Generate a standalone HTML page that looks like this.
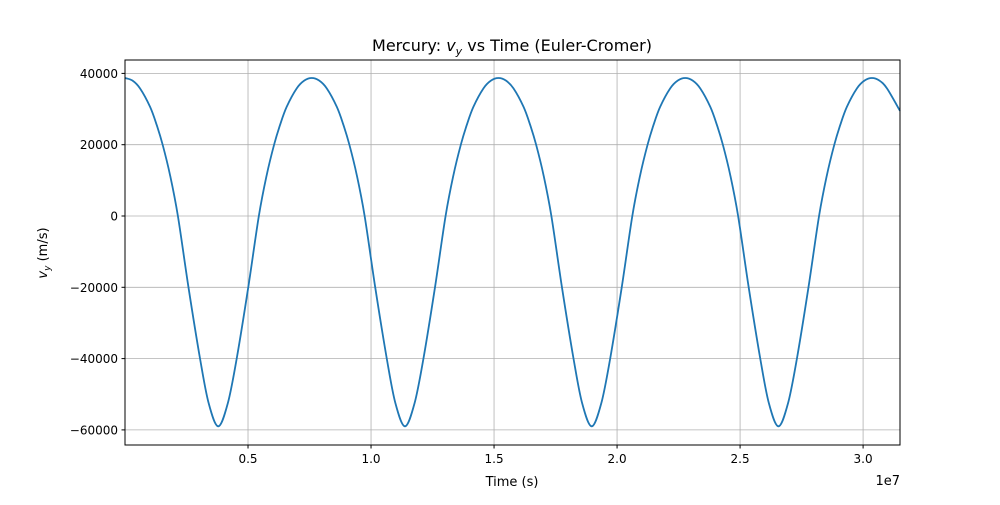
<!DOCTYPE html>
<html><head><meta charset="utf-8"><style>
body{margin:0;background:#fff;}
svg{font-family:"DejaVu Sans","Liberation Sans",sans-serif;}
</style></head><body>
<svg id="chart" width="1000" height="500">
<rect width="1000" height="500" fill="#fff"/>
<g id="grid"></g><g id="axes"></g><g id="series"></g>
<rect x="125" y="60" width="775" height="385" fill="none" stroke="#000" stroke-width="1"/>
<text x="512" y="51" text-anchor="middle" font-size="16">Mercury: <tspan font-style="italic">v</tspan><tspan font-style="italic" font-size="11" dy="4">y</tspan><tspan dy="-4"> vs Time (Euler-Cromer)</tspan></text>
<text x="512" y="486" text-anchor="middle" font-size="13">Time (s)</text>
<text x="900" y="485" text-anchor="end" font-size="13">1e7</text>
<text transform="translate(47,253) rotate(-90)" text-anchor="middle" font-size="13"><tspan font-style="italic">v</tspan><tspan font-style="italic" font-size="9" dy="3">y</tspan><tspan dy="-3"> (m/s)</tspan></text>
</svg>
<script>
const xTicks=[0.5,1.0,1.5,2.0,2.5,3.0];
const xTickLabels=["0.5","1.0","1.5","2.0","2.5","3.0"];
const yTicks=[40000,20000,0,-20000,-40000,-60000];
const yTickLabels=["40000","20000","0","\u221220000","\u221240000","\u221260000"];
const times=[0,0.3,0.61,1.02,1.29,1.53,1.83,2.15,2.58,3.05,3.4,3.79,4.18,4.54,5.01,5.44,5.76,6.06,6.30,6.57,6.98,7.29,
7.59,7.89,8.20,8.61,8.88,9.12,9.42,9.74,10.17,10.64,10.99,11.38,11.77,12.13,12.60,13.03,13.35,13.65,13.89,14.16,14.57,14.88,
15.18,15.48,15.79,16.20,16.47,16.71,17.01,17.33,17.76,18.23,18.58,18.97,19.36,19.72,20.19,20.62,20.94,21.24,21.48,21.75,22.16,22.47,
22.77,23.07,23.38,23.79,24.06,24.30,24.60,24.92,25.35,25.82,26.17,26.56,26.95,27.31,27.78,28.21,28.53,28.83,29.07,29.34,29.75,30.06,
30.36,30.66,30.97,31.5];
const vy=[38700,38000,35800,30600,25500,20000,11500,0,-20000,-40000,-52500,-59000,-52500,-40000,-20000,0,11500,20000,25500,30600,35800,38000,
38700,38000,35800,30600,25500,20000,11500,0,-20000,-40000,-52500,-59000,-52500,-40000,-20000,0,11500,20000,25500,30600,35800,38000,
38700,38000,35800,30600,25500,20000,11500,0,-20000,-40000,-52500,-59000,-52500,-40000,-20000,0,11500,20000,25500,30600,35800,38000,
38700,38000,35800,30600,25500,20000,11500,0,-20000,-40000,-52500,-59000,-52500,-40000,-20000,0,11500,20000,25500,30600,35800,38000,
38700,38000,35800,29500];
const L=125,R=900,T=60,B=445;
const xMin=0,xMax=3.15e7;
const yAt0=216,pxPer=71.3/20000;
function X(t){return L+(t-xMin)/(xMax-xMin)*(R-L);}
function Y(v){return yAt0-v*pxPer;}
const NS="http://www.w3.org/2000/svg";
const grid=document.getElementById('grid'),axes=document.getElementById('axes'),ser=document.getElementById('series');
function mk(tag,attrs,parent){const e=document.createElementNS(NS,tag);for(const k in attrs)e.setAttribute(k,attrs[k]);parent.appendChild(e);return e;}
xTicks.forEach((t,i)=>{const x=X(t*1e7);
 const g=mk('line',{x1:x,x2:x,y1:T,y2:B,stroke:'#b0b0b0','stroke-width':0.8},grid);
 
 const tk=mk('line',{x1:x,x2:x,y1:B,y2:B+3.5,stroke:'#000'},axes);
 
 const lb=mk('text',{x:x,y:B+18,'text-anchor':'middle','font-size':12},axes);lb.textContent=xTickLabels[i];
 });
yTicks.forEach((v,i)=>{const y=Y(v);
 const g=mk('line',{x1:L,x2:R,y1:y,y2:y,stroke:'#b0b0b0','stroke-width':0.8},grid);
 
 const tk=mk('line',{x1:L-3.5,x2:L,y1:y,y2:y,stroke:'#000'},axes);
 
 const lb=mk('text',{x:L-7,y:y+4.5,'text-anchor':'end','font-size':12},axes);lb.textContent=yTickLabels[i];
 });
const pts=times.map((t,i)=>[X(t*1e6),Y(vy[i])]);
let d='M'+pts[0][0].toFixed(2)+','+pts[0][1].toFixed(2);
for(let i=0;i<pts.length-1;i++){const p0=pts[Math.max(0,i-1)],p1=pts[i],p2=pts[i+1],p3=pts[Math.min(pts.length-1,i+2)];
 const c1=[p1[0]+(p2[0]-p0[0])/6,p1[1]+(p2[1]-p0[1])/6],c2=[p2[0]-(p3[0]-p1[0])/6,p2[1]-(p3[1]-p1[1])/6];
 d+=' C'+c1.join(',')+' '+c2.join(',')+' '+p2.join(',');}
const path=mk('path',{d:d,fill:'none',stroke:'#1f77b4','stroke-width':1.8},ser);


</script>
</body></html>
